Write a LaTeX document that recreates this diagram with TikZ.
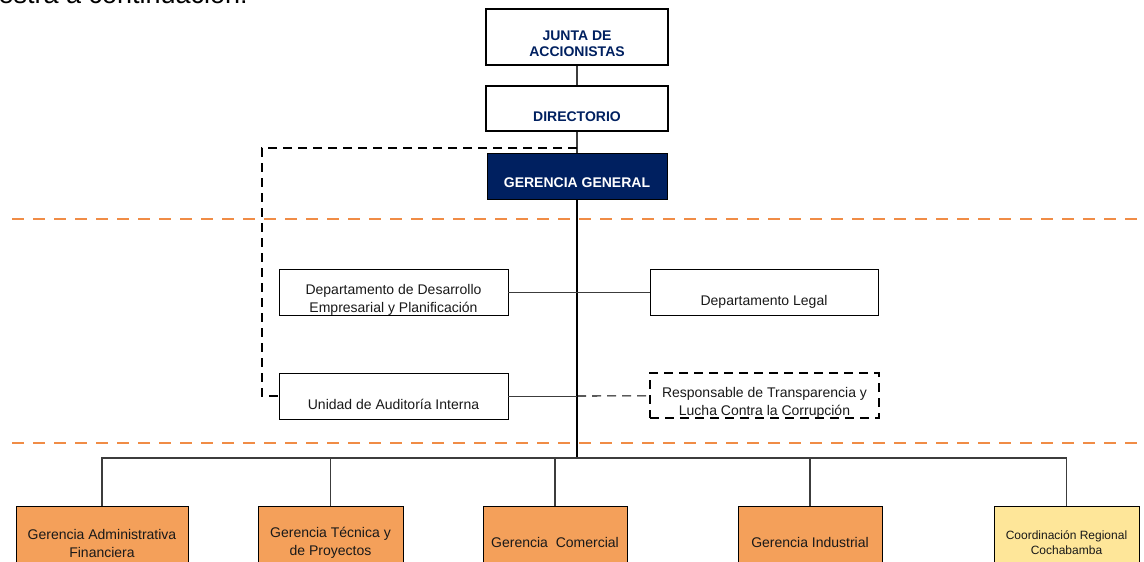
\documentclass[tikz,border=0pt]{standalone}
\usepackage{fontspec}
\setmainfont{Liberation Sans}
\usetikzlibrary{positioning}

\definecolor{navy}{RGB}{0,32,96}
\definecolor{orangebox}{RGB}{244,160,90}
\definecolor{orangeline}{RGB}{240,140,70}
\definecolor{cream}{RGB}{254,230,153}
\definecolor{linegray}{RGB}{60,60,60}

\tikzset{
	every label/.style={font=\fontsize{14}{18}\selectfont, align=center, inner sep=0pt, text=black!90},
	board/.style={draw, line width=2.8pt, minimum width=182pt, inner sep=0pt},
	boardtext/.style={font=\bfseries\fontsize{14}{16}\selectfont, text=navy},
	staff/.style={draw, line width=0.9pt, minimum width=229pt, minimum height=46pt, inner sep=0pt},
	manager/.style={draw, line width=0.9pt, fill=orangebox, minimum width=145pt, minimum height=60pt, inner sep=0pt},
	link/.style={line width=1pt, draw=linegray},
	dotlink/.style={line width=1.1pt, draw=black, dash pattern=on 9pt off 6pt},
	divider/.style={line width=1.8pt, draw=orangeline, dash pattern=on 12pt off 9pt}
}

\begin{document}
\begin{tikzpicture}[x=1pt, y=-1pt]
			\useasboundingbox (0,0) rectangle (1144,562);

			\node [anchor=base east, inner sep=0pt, font=\fontsize{27}{30}\selectfont] (intro) at (248,3) {muestra a continuación:};

			\draw [divider] (12,219) -- (1144,219);
			\draw [divider] (12,443) -- (1144,443);

			\node [board, minimum height=56pt, label={[boardtext, yshift=-7pt]center:JUNTA DE\\ACCIONISTAS}] (junta) at (577,37) {};
			\node [board, minimum height=45pt, label={[boardtext, yshift=-8.5pt]center:DIRECTORIO}] (dir) at (577,108.5) {};
			\node [draw, line width=1pt, fill=navy, minimum width=180pt, minimum height=46pt, inner sep=0pt, label={[boardtext, text=white, yshift=-7pt]center:GERENCIA GENERAL}] (gg) at (577,176) {};

			\node [staff, label={[yshift=-8pt]center:Departamento de Desarrollo\\Empresarial y Planificación}] (dev) at (393.5,292) {};
			\node [staff, minimum width=228pt, label={[yshift=-10pt]center:Departamento Legal}] (legal) at (764,292) {};
			\node [staff, label={[yshift=-8pt]center:Unidad de Auditoría Interna}] (audit) at (393.5,396) {};
			\node [staff, line width=1.1pt, dash pattern=on 9pt off 6pt, minimum height=45pt, label={[yshift=-7.5pt]center:Responsable de Transparencia y\\Lucha Contra la Corrupción}] (transp) at (764.5,395.5) {};

			\node [manager, minimum width=172pt, label={[yshift=-7pt]center:Gerencia Administrativa\\Financiera}] (gaf) at (102,536) {};
			\node [manager, label={[yshift=-7pt]center:Gerencia Técnica y\\de Proyectos}] (gtp) at (330.5,536) {};
			\node [manager, minimum width=144pt, label={[yshift=-6pt]center:Gerencia\ \ Comercial}] (gcom) at (555,536) {};
			\node [manager, minimum width=144pt, label={[yshift=-6pt]center:Gerencia Industrial}] (gind) at (810,536) {};
			\node [manager, fill=cream, label={[yshift=-6.5pt, font=\fontsize{12}{15}\selectfont]center:Coordinación Regional\\Cochabamba}] (coord) at (1066.5,536) {};

			\coordinate (dirtap) at (577,148);
			\coordinate (loopturn) at (262,148);
			\coordinate (audittap) at (577,396);
			\coordinate (busmid) at (577,458);

			\draw [link, line width=1.4pt] (junta) to (dir);
			\draw [link, line width=1.4pt] (dir) to (gg);
			\draw [line width=2pt] (gg) to (busmid);
			\draw [dotlink] (dirtap) -- (loopturn) |- (audit);
			\draw [link] (dev) to (legal);
			\draw [link] (audit) to (audittap);
			\draw [dotlink] (audittap) to (transp);

			\draw [link, line width=1.3pt] (busmid) -| (gaf);
			\draw [link, line width=1.3pt] (busmid) -| (gtp);
			\draw [link, line width=1.3pt] (busmid) -| (gcom);
			\draw [link, line width=1.3pt] (busmid) -| (gind);
			\draw [link, line width=1.3pt] (busmid) -| (coord);
		\end{tikzpicture}
\end{document}
